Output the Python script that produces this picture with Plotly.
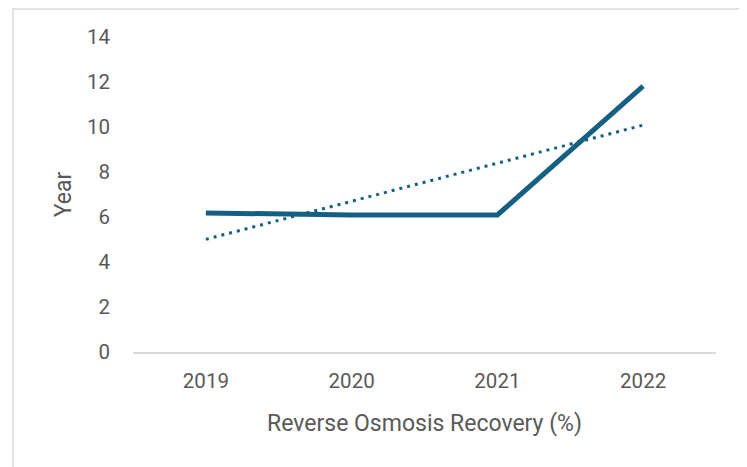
import numpy as np
import plotly.graph_objects as go

categories = ["2019", "2020", "2021", "2022"]
values = [6.18, 6.09, 6.09, 11.82]
y_ticks = [0, 2, 4, 6, 8, 10, 12, 14]

# linear trendline (least squares) as in Excel
xi = np.arange(1, len(values) + 1)
slope, intercept = np.polyfit(xi, values, 1)
trend = slope * xi + intercept

color = "#156082"
font_family = "Roboto, 'Open Sans', sans-serif"
gray = "#595959"

OFF = 8  # page body offset
W, H = 747 - OFF, 467 - OFF
L, R, T, B = 133 - OFF, 716 - OFF, 37 - OFF, 352 - OFF

fig = go.Figure()
fig.add_trace(go.Scatter(x=categories, y=values, mode="lines",
                         line=dict(color=color, width=5), showlegend=False))
fig.add_trace(go.Scatter(x=categories, y=trend, mode="lines",
                         line=dict(color=color, width=3, dash="3px,5px"), showlegend=False))

pw = R - L
ph = B - T
def px(x): return (x - OFF - L) / pw
def py(y): return (B - (y - OFF)) / ph

fig.add_shape(type="rect", xref="paper", yref="paper",
              x0=px(13), x1=px(745), y0=py(480), y1=py(9),
              line=dict(color="#D9D9D9", width=1.5), fillcolor="rgba(0,0,0,0)", layer="below")

fig.update_layout(
    width=W, height=H,
    margin=dict(l=L, r=W - R, t=T, b=H - B),
    paper_bgcolor="white", plot_bgcolor="white",
    font=dict(family=font_family, color=gray, size=20),
    xaxis=dict(type="category", range=[-0.5, 3.5], showgrid=False,
               showline=True, linecolor="#D9D9D9", linewidth=1.5,
               ticks="", tickfont=dict(size=20.5, color=gray), ticklabelstandoff=10,
               title=dict(text="Reverse Osmosis Recovery (%)", font=dict(size=23, color=gray), standoff=23),
               zeroline=False),
    yaxis=dict(range=[0, 14], tickvals=y_ticks, showgrid=False, showline=False,
               zeroline=False, ticks="", ticklabelstandoff=22,
               tickfont=dict(size=20.5, color=gray),
               title=dict(text="Year", font=dict(size=23, color=gray), standoff=8)),
)

fig.write_html("out.html")
